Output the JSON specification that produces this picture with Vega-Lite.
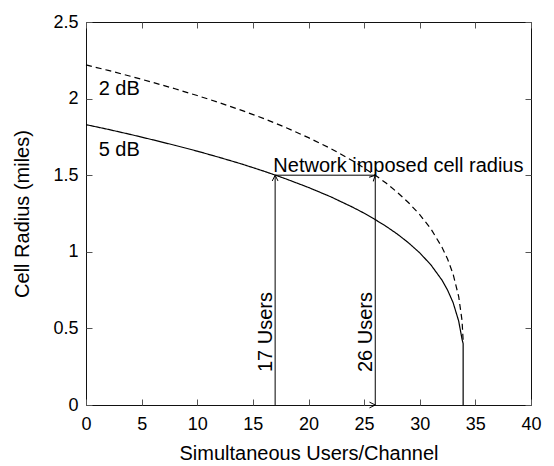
{
  "$schema": "https://vega.github.io/schema/vega-lite/v6.json",
  "width": 445,
  "height": 383,
  "autosize": "none",
  "padding": {"left": 86, "top": 22, "right": 23, "bottom": 61},
  "background": "white",
  "config": {
    "font": "Liberation Sans",
    "view": {"stroke": "#111111", "strokeWidth": 1},
    "axis": {
      "domain": false,
      "grid": false,
      "ticks": true,
      "tickColor": "#555555",
      "tickWidth": 1,
      "tickSize": 6,
      "offset": -6,
      "labelFont": "Liberation Sans",
      "labelFontSize": 18,
      "labelColor": "#000000",
      "titleFont": "Liberation Sans",
      "titleFontSize": 20,
      "titleFontWeight": "normal",
      "titleColor": "#000000"
    },
    "text": {"font": "Liberation Sans", "fontSize": 20, "color": "#000000"}
  },
  "datasets": {
    "curves": [
      {"k": 0, "db": "5 dB", "users": 0, "radius": 1.830},
      {"k": 1, "db": "5 dB", "users": 2, "radius": 1.799},
      {"k": 2, "db": "5 dB", "users": 4, "radius": 1.766},
      {"k": 3, "db": "5 dB", "users": 6, "radius": 1.731},
      {"k": 4, "db": "5 dB", "users": 8, "radius": 1.695},
      {"k": 5, "db": "5 dB", "users": 10, "radius": 1.657},
      {"k": 6, "db": "5 dB", "users": 12, "radius": 1.616},
      {"k": 7, "db": "5 dB", "users": 14, "radius": 1.573},
      {"k": 8, "db": "5 dB", "users": 16, "radius": 1.526},
      {"k": 9, "db": "5 dB", "users": 17, "radius": 1.501},
      {"k": 10, "db": "5 dB", "users": 18, "radius": 1.475},
      {"k": 11, "db": "5 dB", "users": 20, "radius": 1.420},
      {"k": 12, "db": "5 dB", "users": 22, "radius": 1.359},
      {"k": 13, "db": "5 dB", "users": 24, "radius": 1.290},
      {"k": 14, "db": "5 dB", "users": 25, "radius": 1.252},
      {"k": 15, "db": "5 dB", "users": 26, "radius": 1.210},
      {"k": 16, "db": "5 dB", "users": 27, "radius": 1.165},
      {"k": 17, "db": "5 dB", "users": 28, "radius": 1.115},
      {"k": 18, "db": "5 dB", "users": 29, "radius": 1.058},
      {"k": 19, "db": "5 dB", "users": 30, "radius": 0.993},
      {"k": 20, "db": "5 dB", "users": 31, "radius": 0.915},
      {"k": 21, "db": "5 dB", "users": 32, "radius": 0.815},
      {"k": 22, "db": "5 dB", "users": 32.5, "radius": 0.750},
      {"k": 23, "db": "5 dB", "users": 33, "radius": 0.668},
      {"k": 24, "db": "5 dB", "users": 33.5, "radius": 0.548},
      {"k": 25, "db": "5 dB", "users": 33.8, "radius": 0.430},
      {"k": 26, "db": "5 dB", "users": 33.9, "radius": 0.400},
      {"k": 27, "db": "5 dB", "users": 33.9, "radius": 0.0},
      {"k": 0, "db": "2 dB", "users": 0, "radius": 2.220},
      {"k": 1, "db": "2 dB", "users": 2, "radius": 2.184},
      {"k": 2, "db": "2 dB", "users": 4, "radius": 2.146},
      {"k": 3, "db": "2 dB", "users": 6, "radius": 2.106},
      {"k": 4, "db": "2 dB", "users": 8, "radius": 2.064},
      {"k": 5, "db": "2 dB", "users": 10, "radius": 2.020},
      {"k": 6, "db": "2 dB", "users": 12, "radius": 1.973},
      {"k": 7, "db": "2 dB", "users": 14, "radius": 1.923},
      {"k": 8, "db": "2 dB", "users": 16, "radius": 1.869},
      {"k": 9, "db": "2 dB", "users": 18, "radius": 1.810},
      {"k": 10, "db": "2 dB", "users": 20, "radius": 1.745},
      {"k": 11, "db": "2 dB", "users": 22, "radius": 1.674},
      {"k": 12, "db": "2 dB", "users": 24, "radius": 1.593},
      {"k": 13, "db": "2 dB", "users": 26, "radius": 1.500},
      {"k": 14, "db": "2 dB", "users": 27, "radius": 1.447},
      {"k": 15, "db": "2 dB", "users": 28, "radius": 1.387},
      {"k": 16, "db": "2 dB", "users": 29, "radius": 1.320},
      {"k": 17, "db": "2 dB", "users": 30, "radius": 1.243},
      {"k": 18, "db": "2 dB", "users": 31, "radius": 1.150},
      {"k": 19, "db": "2 dB", "users": 32, "radius": 1.030},
      {"k": 20, "db": "2 dB", "users": 32.5, "radius": 0.953},
      {"k": 21, "db": "2 dB", "users": 33, "radius": 0.854},
      {"k": 22, "db": "2 dB", "users": 33.5, "radius": 0.708},
      {"k": 23, "db": "2 dB", "users": 33.8, "radius": 0.552},
      {"k": 24, "db": "2 dB", "users": 33.9, "radius": 0.420}
    ],
    "arrowPath": [
      {"k": 0, "users": 17, "radius": 0},
      {"k": 1, "users": 17, "radius": 1.5},
      {"k": 2, "users": 26, "radius": 1.5},
      {"k": 3, "users": 26, "radius": 0}
    ],
    "arrowHeads": [
      {"users": 17, "radius": 1.5, "dir": "up"},
      {"users": 26, "radius": 1.5, "dir": "right"},
      {"users": 26, "radius": 0, "dir": "down"}
    ],
    "curveLabels": [
      {"users": 1.14, "radius": 2.023, "label": "2 dB"},
      {"users": 1.14, "radius": 1.625, "label": "5 dB"},
      {"users": 16.84, "radius": 1.523, "label": "Network imposed cell radius"}
    ],
    "userLabels": [
      {"users": 17, "radius": 0.476, "label": "17 Users"},
      {"users": 26, "radius": 0.476, "label": "26 Users"}
    ]
  },
  "layer": [
    {
      "mark": {"type": "rule", "color": "#000000", "strokeWidth": 1, "strokeDash": [5, 2, 1, 2]},
      "encoding": {
        "y": {"datum": 1.5, "type": "quantitative", "axis": null}
      }
    },
    {
      "data": {"name": "curves"},
      "mark": {"type": "line", "color": "#000000", "strokeWidth": 1.2},
      "encoding": {
        "x": {
          "field": "users",
          "type": "quantitative",
          "scale": {"domain": [0, 40], "nice": false, "zero": false},
          "axis": {
            "orient": "bottom",
            "title": "Simultaneous Users/Channel",
            "values": [0, 5, 10, 15, 20, 25, 30, 35, 40],
            "labelPadding": 10,
            "labelFlush": false,
            "titleBaseline": "alphabetic",
            "titleY": 60,
            "titleX": 222.5
          }
        },
        "y": {
          "field": "radius",
          "type": "quantitative",
          "scale": {"domain": [0, 2.5], "nice": false, "zero": false},
          "axis": {
            "orient": "left",
            "title": "Cell Radius (miles)",
            "values": [0, 0.5, 1, 1.5, 2, 2.5],
            "labelExpr": "'' + datum.value",
            "labelPadding": 8,
            "labelFlush": false,
            "titleAngle": 270,
            "titleBaseline": "middle",
            "titleX": -70,
            "titleY": 191.5
          }
        },
        "detail": {"field": "db"},
        "order": {"field": "k", "type": "quantitative"},
        "strokeDash": {
          "field": "db",
          "type": "nominal",
          "scale": {"domain": ["2 dB", "5 dB"], "range": [[6, 4], [1, 0]]},
          "legend": null
        }
      }
    },
    {
      "data": {"name": "arrowPath"},
      "mark": {"type": "line", "color": "#000000", "strokeWidth": 1},
      "encoding": {
        "x": {
          "field": "users",
          "type": "quantitative",
          "axis": {
            "orient": "top",
            "title": null,
            "labels": false,
            "values": [0, 5, 10, 15, 20, 25, 30, 35, 40]
          }
        },
        "y": {
          "field": "radius",
          "type": "quantitative",
          "axis": {
            "orient": "right",
            "title": null,
            "labels": false,
            "values": [0, 0.5, 1, 1.5, 2, 2.5]
          }
        },
        "order": {"field": "k", "type": "quantitative"}
      }
    },
    {
      "data": {"name": "arrowHeads"},
      "mark": {
        "type": "point",
        "shape": "M -0.55 1.1 L 0 0 L 0.55 1.1",
        "filled": false,
        "stroke": "#000000",
        "strokeWidth": 1,
        "size": 110,
        "opacity": 1
      },
      "encoding": {
        "x": {"field": "users", "type": "quantitative", "axis": null},
        "y": {"field": "radius", "type": "quantitative", "axis": null},
        "angle": {
          "field": "dir",
          "type": "nominal",
          "scale": {"domain": ["up", "right", "down"], "range": [0, 90, 180]},
          "legend": null
        }
      }
    },
    {
      "data": {"name": "curveLabels"},
      "mark": {"type": "text", "align": "left", "baseline": "alphabetic"},
      "encoding": {
        "x": {"field": "users", "type": "quantitative", "axis": null},
        "y": {"field": "radius", "type": "quantitative", "axis": null},
        "text": {"field": "label"}
      }
    },
    {
      "data": {"name": "userLabels"},
      "mark": {"type": "text", "align": "center", "baseline": "alphabetic", "angle": 270, "dy": -3},
      "encoding": {
        "x": {"field": "users", "type": "quantitative", "axis": null},
        "y": {"field": "radius", "type": "quantitative", "axis": null},
        "text": {"field": "label"}
      }
    }
  ],
  "resolve": {"axis": {"x": "independent", "y": "independent"}}
}
